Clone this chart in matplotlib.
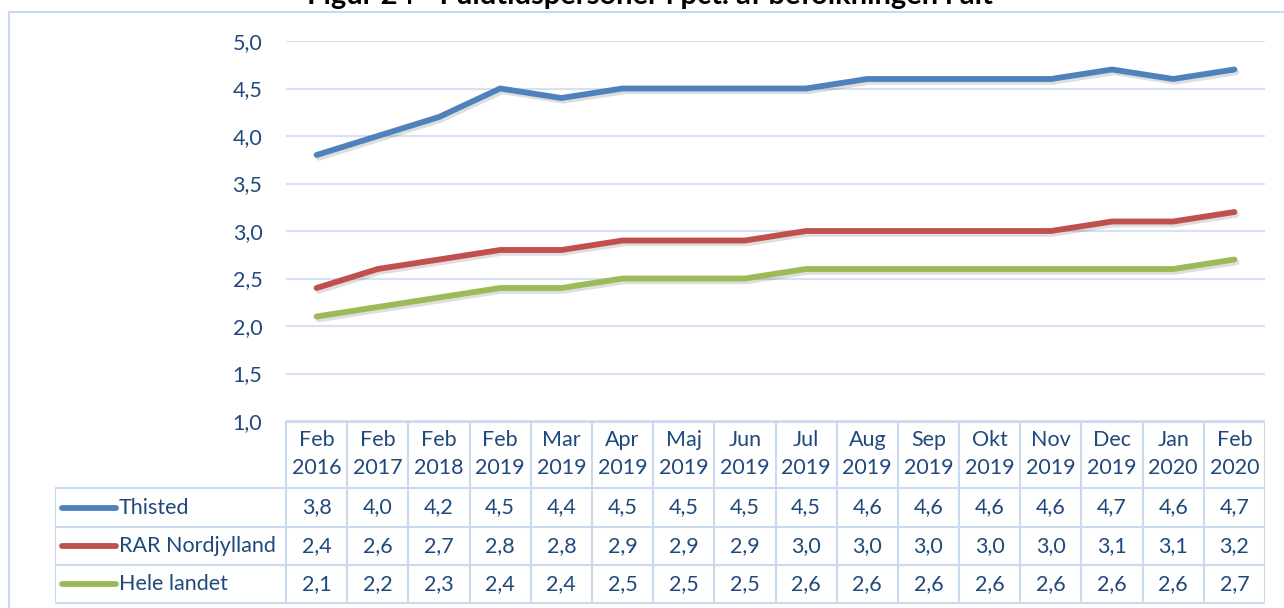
import matplotlib
matplotlib.use('Agg')
import matplotlib.pyplot as plt
import matplotlib.patheffects as pe
from matplotlib.lines import Line2D

plt.rcParams['font.family'] = ['Lato', 'DejaVu Sans']

# Data
months = ['Feb\n2016', 'Feb\n2017', 'Feb\n2018', 'Feb\n2019', 'Mar\n2019', 'Apr\n2019',
          'Maj\n2019', 'Jun\n2019', 'Jul\n2019', 'Aug\n2019', 'Sep\n2019', 'Okt\n2019',
          'Nov\n2019', 'Dec\n2019', 'Jan\n2020', 'Feb\n2020']
thisted = [3.8, 4.0, 4.2, 4.5, 4.4, 4.5, 4.5, 4.5, 4.5, 4.6, 4.6, 4.6, 4.6, 4.7, 4.6, 4.7]
rar = [2.4, 2.6, 2.7, 2.8, 2.8, 2.9, 2.9, 2.9, 3.0, 3.0, 3.0, 3.0, 3.0, 3.1, 3.1, 3.2]
hele = [2.1, 2.2, 2.3, 2.4, 2.4, 2.5, 2.5, 2.5, 2.6, 2.6, 2.6, 2.6, 2.6, 2.6, 2.6, 2.7]
series_names = ['Thisted', 'RAR Nordjylland', 'Hele landet']
colors = ['#4F81BD', '#C0504D', '#9BBB59']
yticks = [1.0, 1.5, 2.0, 2.5, 3.0, 3.5, 4.0, 4.5, 5.0]
title = 'Figur 24 - Fuldtidspersoner i pct. af befolkningen i alt'

txt = '#1F497D'
grid = '#D6E2F3'
border = '#C9D9EF'
fs = 15.5
W, H = 1284, 608

fig = plt.figure(figsize=(W / 100, H / 100), dpi=100)

# outer frame of the chart
fig.add_artist(Line2D([9 / W, 9 / W], [0, 1 - 12 / H], color=border, lw=1.5))
fig.add_artist(Line2D([9 / W, 1], [1 - 12 / H, 1 - 12 / H], color=border, lw=1.5))

# title, cut off at the top edge as in the source image
fig.text(650 / W, 1 - 4 / H, title, ha='center', va='baseline',
         fontsize=21, fontweight='bold', color='black')

# main plot
x0, x1 = 286, 1265
ax = fig.add_axes([x0 / W, 1 - 421 / H, (x1 - x0) / W, 380 / H])
xs = list(range(len(months)))
for vals, c in zip([thisted, rar, hele], colors):
    ax.plot(xs, vals, color=c, lw=4.2, solid_capstyle='round', solid_joinstyle='round',
            path_effects=[pe.SimpleLineShadow(offset=(1.5, -2), alpha=0.13, shadow_color='black'),
                          pe.Normal()])
ax.set_xlim(-0.5, len(months) - 0.5)
ax.set_ylim(1, 5)
ax.set_yticks(yticks)
ax.set_yticklabels([f'{v:.1f}'.replace('.', ',') for v in yticks])
ax.set_xticks([])
ax.tick_params(axis='y', length=0, pad=17, labelsize=fs, labelcolor=txt)
ax.grid(axis='y', color=grid, lw=1.5)
ax.set_axisbelow(True)
for s in ax.spines.values():
    s.set_visible(False)

# data table below
colw = (x1 - x0) / len(months)
left = -0.5 - (x0 - 55) / colw
tax = fig.add_axes([55 / W, 0, (x1 - 55) / W, 1], facecolor='none')
tax.set_xlim(left, len(months) - 0.5)
tax.set_ylim(H, 0)
tax.axis('off')
rows = [422, 488, 527, 565, 603]

# borders
tax.plot([-0.5, len(months) - 0.5], [rows[0], rows[0]], color=border, lw=1.5)
for r in rows[1:]:
    tax.plot([left, len(months) - 0.5], [r, r], color=border, lw=1.5)
for i in range(len(months) + 1):
    tax.plot([i - 0.5, i - 0.5], [rows[0], rows[-1]], color=border, lw=1.5)
tax.plot([left, left], [rows[1], rows[-1]], color=border, lw=1.5)

# header
for i, m in enumerate(months):
    top, bot = m.split('\n')
    tax.text(i, 440, top, ha='center', va='center', fontsize=fs, color=txt)
    tax.text(i, 468, bot, ha='center', va='center', fontsize=fs, color=txt)

# data rows with legend keys
lx0 = left + (62 - 55) / colw
lx1 = left + (116 - 55) / colw
for k, (name, vals, c) in enumerate(zip(series_names, [thisted, rar, hele], colors)):
    yc = (rows[k + 1] + rows[k + 2]) / 2
    tax.plot([lx0, lx1], [yc, yc], color=c, lw=4.2, solid_capstyle='round')
    tax.text(left + (119 - 55) / colw, yc, name, ha='left', va='center', fontsize=fs, color=txt)
    for i, v in enumerate(vals):
        tax.text(i, yc, f'{v:.1f}'.replace('.', ','), ha='center', va='center',
                 fontsize=fs, color=txt)

fig.savefig('out.png', dpi=100)
